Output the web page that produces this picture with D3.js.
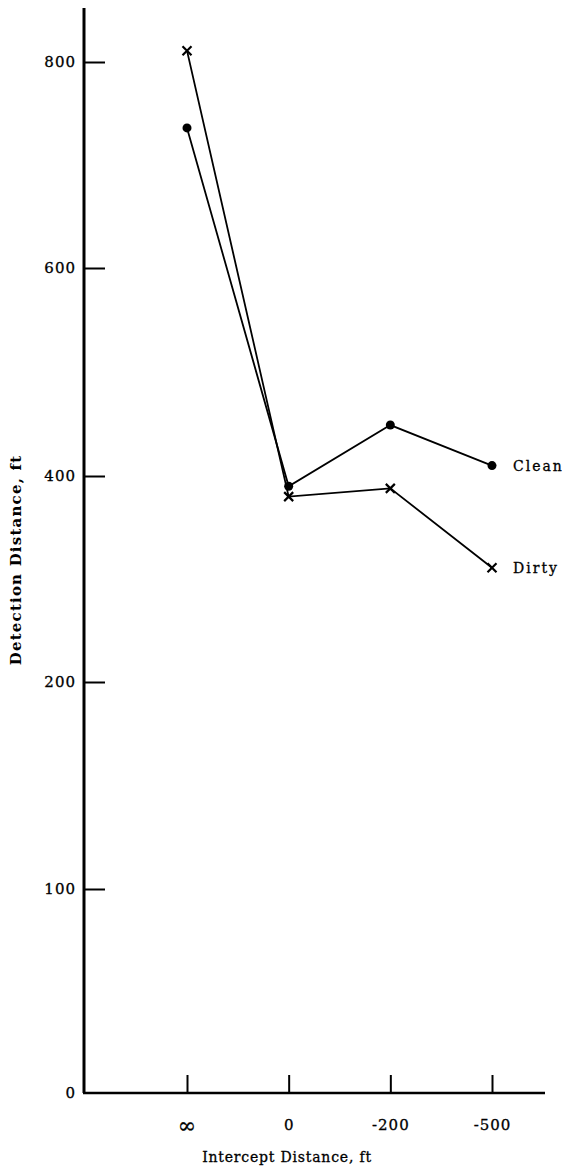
<!DOCTYPE html>
<html>
<head>
<meta charset="utf-8">
<script src="https://cdn.jsdelivr.net/npm/d3@7"></script>
<style>
  html, body { margin: 0; padding: 0; background: #fff; }
  svg text { font-family: "DejaVu Serif", "Liberation Serif", serif; fill: #000; }
</style>
</head>
<body>
<svg id="chart" width="576" height="1169"></svg>
<script>
// Intercept distance categories along the bottom
const categories = ["∞", "0", "-200", "-500"];
// Detection distance (ft) for each condition
const cleanValues = [736, 390, 449, 410];
const dirtyValues = [811, 380, 388, 311];
// Labelled y ticks (equally spaced on the page, not linear in value)
const yTicks = [0, 100, 200, 400, 600, 800];

const svg = d3.select("#chart");

const axisX = 84, baseY = 1093, topY = 8, rightX = 545;

const x = d3.scalePoint().domain(categories).range([187, 492]);
const y = d3.scaleLinear()
  .domain(yTicks)
  .range([1093, 889, 682, 476, 268, 62]);

// Y axis: ticks point into the plot, labels on the left
const yAxis = svg.append("g")
  .attr("transform", `translate(${axisX},0)`)
  .call(d3.axisRight(y).tickValues(yTicks).tickSize(21).tickSizeOuter(0).tickFormat(d3.format("d")));
yAxis.select(".domain").remove();
yAxis.selectAll(".tick line").attr("stroke", "#000").attr("stroke-width", 2);
yAxis.selectAll(".tick text")
  .attr("x", -8).attr("text-anchor", "end")
  .attr("font-size", 15).attr("letter-spacing", 1)
  .attr("font-family", "DejaVu Serif").attr("fill", "#000")
  .attr("stroke", "#000").attr("stroke-width", 0.3);
yAxis.selectAll(".tick").filter(d => d === 0).select("line").remove();

svg.append("line")
  .attr("x1", axisX).attr("x2", axisX)
  .attr("y1", topY).attr("y2", baseY)
  .attr("stroke", "#000").attr("stroke-width", 3);

// X axis: short upward ticks at each category
const xAxis = svg.append("g")
  .attr("transform", `translate(0,${baseY})`)
  .call(d3.axisTop(x).tickSize(18).tickSizeOuter(0));
xAxis.select(".domain").remove();
xAxis.selectAll(".tick line").attr("stroke", "#000").attr("stroke-width", 2);
xAxis.selectAll(".tick text")
  .attr("y", 32).attr("dy", "0.35em")
  .attr("font-size", d => d === "∞" ? 22 : 15).attr("letter-spacing", 1)
  .attr("font-family", "DejaVu Serif").attr("fill", "#000")
  .attr("stroke", "#000").attr("stroke-width", 0.3);

svg.append("line")
  .attr("x1", axisX - 1).attr("x2", rightX)
  .attr("y1", baseY).attr("y2", baseY)
  .attr("stroke", "#000").attr("stroke-width", 2.5);

// Axis titles
svg.append("text")
  .attr("transform", `translate(21,560) rotate(-90)`)
  .attr("text-anchor", "middle")
  .attr("font-size", 15).attr("font-weight", "bold").attr("letter-spacing", 1.2)
  .text("Detection Distance, ft");

svg.append("text")
  .attr("x", 287).attr("y", 1162)
  .attr("text-anchor", "middle")
  .attr("font-size", 14).attr("letter-spacing", 0.8)
  .attr("stroke", "#000").attr("stroke-width", 0.3)
  .text("Intercept Distance, ft");

// Series lines
const line = d3.line().x((d, i) => x(categories[i])).y(d => y(d));

svg.append("path").datum(cleanValues)
  .attr("d", line).attr("fill", "none")
  .attr("stroke", "#000").attr("stroke-width", 1.8);
svg.append("path").datum(dirtyValues)
  .attr("d", line).attr("fill", "none")
  .attr("stroke", "#000").attr("stroke-width", 1.8);

// Clean: filled dots
svg.selectAll("circle.clean").data(cleanValues).join("circle")
  .attr("class", "clean")
  .attr("cx", (d, i) => x(categories[i]))
  .attr("cy", d => y(d))
  .attr("r", 4.5).attr("fill", "#000");

// Dirty: crosses
const s = 4.5;
svg.selectAll("path.dirty").data(dirtyValues).join("path")
  .attr("class", "dirty")
  .attr("d", (d, i) => {
    const cx = x(categories[i]), cy = y(d);
    return `M${cx - s},${cy - s}L${cx + s},${cy + s}M${cx + s},${cy - s}L${cx - s},${cy + s}`;
  })
  .attr("stroke", "#000").attr("stroke-width", 2.2).attr("fill", "none");

// Series labels beside the last points
const last = categories.length - 1;
svg.append("text")
  .attr("x", x(categories[last]) + 21).attr("y", y(cleanValues[last]) + 5)
  .attr("font-size", 14).attr("letter-spacing", 2)
  .attr("stroke", "#000").attr("stroke-width", 0.3)
  .text("Clean");
svg.append("text")
  .attr("x", x(categories[last]) + 21).attr("y", y(dirtyValues[last]) + 5)
  .attr("font-size", 14).attr("letter-spacing", 2)
  .attr("stroke", "#000").attr("stroke-width", 0.3)
  .text("Dirty");
</script>
</body>
</html>
